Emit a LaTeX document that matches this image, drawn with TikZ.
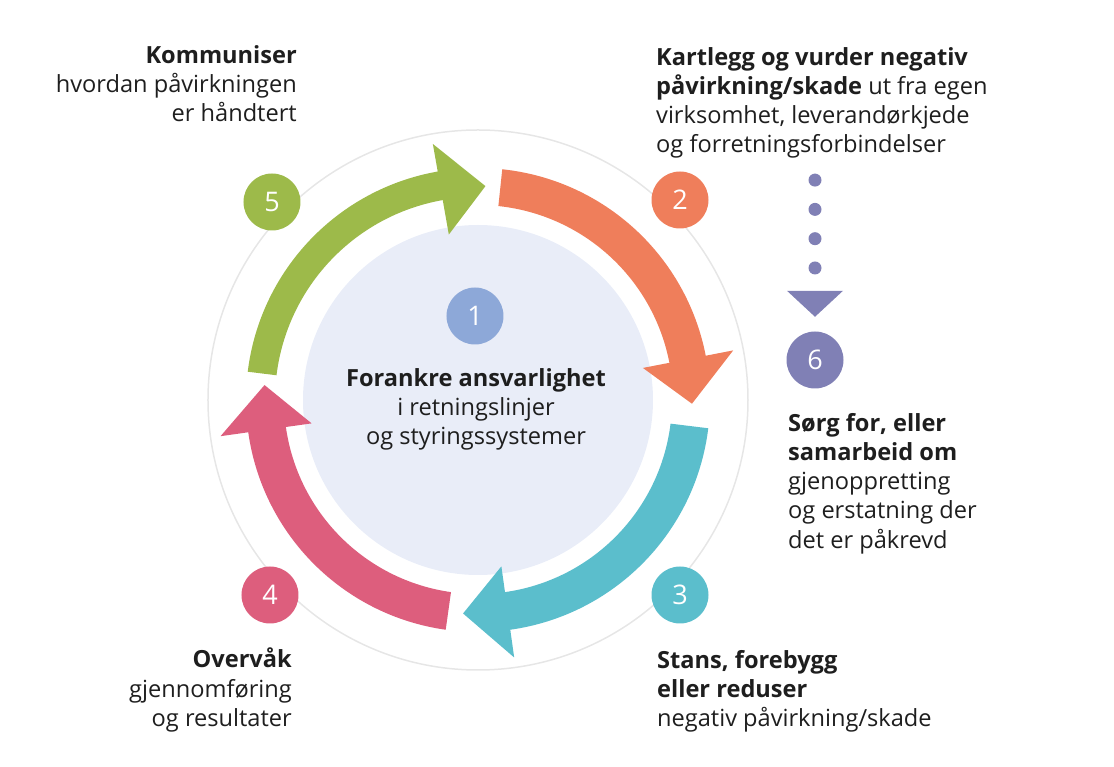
\documentclass[tikz,border=0pt]{standalone}
\usepackage{fontspec}
\setmainfont{Open Sans}
\usetikzlibrary{positioning, calc}
\definecolor{stepgreen}{HTML}{9DBA4A}
\definecolor{steporange}{HTML}{EF7E5B}
\definecolor{stepteal}{HTML}{5BBECC}
\definecolor{steppink}{HTML}{DD5E7D}
\definecolor{stepblue}{HTML}{8DA8D8}
\definecolor{steppurple}{HTML}{8080B5}
\definecolor{hubfill}{HTML}{E9EDF8}
\definecolor{ringline}{HTML}{E6E6E6}
\definecolor{textmain}{HTML}{1E1E1E}

% curved arrow: colour, tail angle, tip angle, inner radius
\newcommand{\cyclearrow}[4]{%
  \fill[#1] (#2:232pt) arc[start angle=#2, end angle={#3+12}, radius=232pt]
    -- ({#3+12}:260pt) -- (#3:214pt) -- ({#3+12}:168pt)
    -- ({#3+12}:#4pt) arc[start angle={#3+12}, end angle=#2, radius=#4pt] -- cycle;}

\begin{document}
\begin{tikzpicture}[
    x=1pt, y=1pt,
    num/.style={circle, fill=#1, minimum size=57pt, inner sep=0pt,
                text=white, font=\fontsize{27}{27}\selectfont},
    txt/.style={font=\fontsize{23.6}{29.2}\selectfont, inner sep=0pt, text=textmain},
    dot/.style={fill=steppurple}
  ]
    \useasboundingbox (-478,-367) rectangle (636,400);

    \node[circle, draw=ringline, line width=1.5pt, minimum size=540pt, inner sep=0pt] (ring) at (0,0) {};
    \node[circle, fill=hubfill, minimum size=350pt, inner sep=0pt] (hub) at (0,0) {};

    \cyclearrow{stepgreen}{173}{88}{203}
    \cyclearrow{steporange}{84}{-1}{195}
    \cyclearrow{stepteal}{-7}{-94}{194}
    \cyclearrow{steppink}{-98}{-184}{194}

    \node[num=stepblue] (n1) at (-3,84) {1};
    \node[num=steporange] (n2) at (202,200) {2};
    \node[num=stepteal] (n3) at (202,-195) {3};
    \node[num=steppink] (n4) at (-208,-195) {4};
    \node[num=stepgreen] (n5) at (-206,198) {5};
    \node[num=steppurple] (n6) at (337,40) {6};

    % dotted path down to step 6
    \foreach \k in {0,...,3}
      \fill[dot] ($(n6)+(0,92+29.3*\k)$) circle[radius=6.5pt];
    \fill[dot] ([yshift=14.5pt]n6.north) -- ++(-28,26) -- ++(56,0) -- cycle;

    \node[txt, anchor=north, align=center] (t1) at (-2,32)
      {\textbf{Forankre ansvarlighet}\\i retningslinjer\\og styringssystemer};
    \node[txt, anchor=north west, align=left] (t2) at (178,353)
      {\textbf{Kartlegg og vurder negativ}\\\textbf{påvirkning/skade} ut fra egen\\virksomhet, leverandørkjede\\og forretningsforbindelser};
    \node[txt, anchor=north west, align=left] (t3) at (179,-250)
      {\textbf{Stans, forebygg}\\\textbf{eller reduser}\\negativ påvirkning/skade};
    \node[txt, anchor=north east, align=right] (t4) at (-186,-248)
      {\textbf{Overvåk}\\gjennomføring\\og resultater};
    \node[txt, anchor=north east, align=right] (t5) at (-181,355)
      {\textbf{Kommuniser}\\hvordan påvirkningen\\er håndtert};
    \node[txt, anchor=north west, align=left] (t6) at (310,-13)
      {\textbf{Sørg for, eller}\\\textbf{samarbeid om}\\gjenoppretting\\og erstatning der\\det er påkrevd};
  \end{tikzpicture}
\end{document}
